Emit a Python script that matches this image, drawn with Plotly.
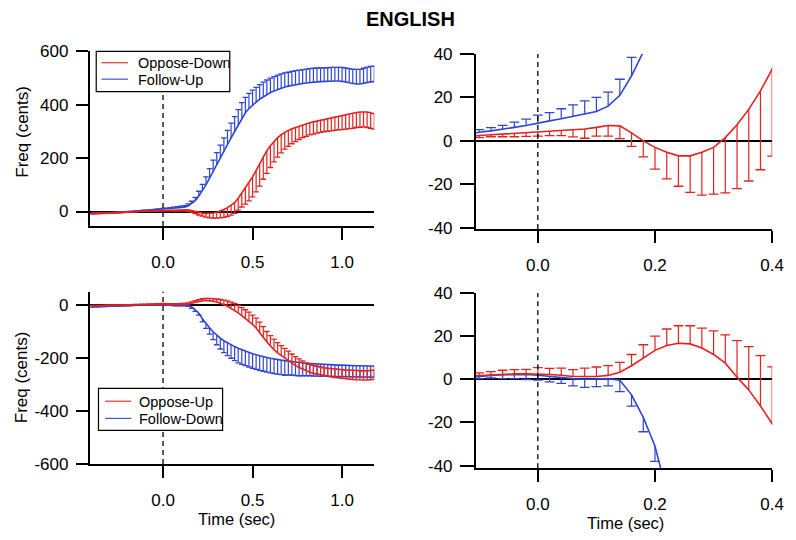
import numpy as np
import plotly.graph_objects as go

# ---------------- data (time in s, pitch response in cents) ----------------
TIME = [-0.40, -0.38, -0.36, -0.34, -0.32, -0.30, -0.28, -0.26, -0.24, -0.22,
        -0.20, -0.18, -0.16, -0.14, -0.12, -0.10, -0.08, -0.06, -0.04, -0.02,
        0.00, 0.02, 0.04, 0.06, 0.08, 0.10, 0.12, 0.14, 0.16, 0.18,
        0.20, 0.22, 0.24, 0.26, 0.28, 0.30, 0.32, 0.34, 0.36, 0.38,
        0.40, 0.42, 0.44, 0.46, 0.48, 0.50, 0.52, 0.54, 0.56, 0.58,
        0.60, 0.62, 0.64, 0.66, 0.68, 0.70, 0.72, 0.74, 0.76, 0.78,
        0.80, 0.82, 0.84, 0.86, 0.88, 0.90, 0.92, 0.94, 0.96, 0.98,
        1.00, 1.02, 1.04, 1.06, 1.08, 1.10, 1.12, 1.14, 1.16, 1.18]

OPPOSE_DOWN = [-7, -7, -6.5, -6, -5.5, -5, -4.5, -4, -3, -2.5,
               -1.5, -1, 0, 1, 1.8, 2.5, 2.8, 3.1, 3.4, 3.7,
               4.1, 4.4, 4.7, 5.2, 5.5, 6.2, 7.1, 6.9, 3.7, 0,
               -3, -5.2, -6.9, -6.9, -5.2, -3, 1.5, 7.4, 14.5, 23,
               33, 50, 69, 88, 108, 130, 154, 180, 206, 228,
               247, 264, 277, 288, 297, 304, 310, 315, 320, 325,
               329, 333, 336, 339, 342, 345, 348, 351, 355, 358,
               360, 363, 366, 368, 371, 373, 374, 373, 370, 366]
OPPOSE_DOWN_SE = [1.5, 1.5, 1.5, 1.5, 1.5, 1.5, 1.5, 1.5, 1.5, 1.5,
                  1.5, 1.5, 1.5, 1.2, 1.1, 1.0, 0.9, 1.2, 1.5, 1.6,
                  1.9, 2.0, 2.3, 3.4, 4.3, 4.0, 4.9, 5.9, 6.2, 7.4,
                  10, 12.3, 14, 16.8, 19.8, 21.5, 25.5, 29.4, 33, 36.3,
                  40, 45, 52, 60, 68, 75, 80, 85, 85, 85,
                  82, 78, 73, 68, 63, 60, 56, 53, 50, 48,
                  47, 46, 46, 45, 45, 46, 47, 49, 51, 52,
                  53, 54, 55, 56, 56, 57, 57, 58, 58, 57]

FOLLOW_UP = [-8, -7.5, -7, -6.5, -6, -5.5, -5, -4, -3.5, -2.5,
             -1.5, -0.5, 0.5, 1.8, 3, 4, 4.6, 5.3, 6.2, 7.1,
             8.3, 9.2, 10.2, 11.3, 12.3, 13.5, 16, 21, 30, 41,
             58, 78, 100, 125, 151, 175, 199, 224, 250, 276,
             300, 325, 350, 370, 386, 399, 410, 421, 430, 439,
             446, 452, 458, 463, 467, 470, 473, 476, 478, 480,
             482, 484, 485, 486, 487, 488, 488, 489, 489, 489,
             488, 486, 483, 480, 478, 478, 481, 484, 486, 487]
FOLLOW_UP_SE = [1.2, 1.2, 1.2, 1.2, 1.2, 1.2, 1.2, 1.2, 1.2, 1.2,
                1.2, 1.2, 1.2, 1.2, 1.2, 1.2, 1.5, 1.8, 2.4, 2.9,
                3.6, 3.8, 4.6, 5.3, 6.1, 6.5, 6.5, 7.4, 8.5, 12,
                18, 24, 30, 36, 42, 46, 50, 52, 54, 55,
                56, 57, 58, 58, 57, 56, 55, 55, 55, 54,
                54, 54, 53, 53, 53, 52, 52, 52, 52, 52,
                52, 52, 52, 52, 51, 51, 51, 51, 51, 51,
                52, 52, 53, 54, 55, 55, 56, 57, 58, 58]

OPPOSE_UP = [-3, -3, -2.5, -2.5, -2, -2, -1.5, -1.5, -1, -0.5,
             0, 0.3, 0.7, 1.1, 1.5, 1.8, 2.1, 2.4, 2.5, 2.5,
             2.5, 2.2, 1.9, 1.3, 1.3, 1.3, 1.8, 3.3, 6.3, 10,
             13.4, 15.7, 16.7, 16.4, 14.5, 11.5, 7.5, 1, -4.9, -12.4,
             -20.6, -30, -40, -50, -61, -73, -87, -103, -122, -140,
             -156, -169, -181, -191, -201, -210, -220, -229, -236, -243,
             -249, -254, -258, -261, -264, -267, -269, -271, -273, -275,
             -277, -279, -280, -281, -282, -283, -283, -283, -282, -281]
OPPOSE_UP_SE = [1.2, 1.2, 1.2, 1.2, 1.2, 1.2, 1.2, 1.2, 1.2, 1.2,
                1.2, 1.2, 1.2, 1.2, 1.2, 1.2, 1.5, 1.8, 2.0, 2.1,
                2.9, 2.9, 3.3, 3.2, 3.9, 4.4, 4.5, 4.5, 5.2, 6.0,
                6.6, 7.6, 8.1, 8.4, 9.2, 10.9, 13.1, 16.9, 20, 23.4,
                26.4, 28, 30, 32, 34, 35, 37, 38, 40, 40,
                40, 40, 39, 38, 37, 36, 35, 34, 33, 32,
                31, 30, 30, 30, 30, 30, 31, 31, 32, 32,
                33, 33, 34, 34, 35, 35, 35, 35, 35, 35]

FOLLOW_DOWN = [-7, -6.5, -6, -5.5, -5, -4.5, -4, -3.5, -3, -2.5,
               -2, -1.5, -0.8, 0, 0.7, 1.3, 1.8, 2.1, 2.2, 2.2,
               1.9, 1.3, 0.7, 0.3, 0, 0, 0.3, -0.4, -7.2, -17.6,
               -31, -52, -70, -86, -101, -114, -125, -135, -143, -150,
               -157, -163, -169, -174, -179, -184, -188, -192, -195, -198,
               -201, -204, -206, -208, -210, -212, -214, -216, -218, -219,
               -220, -221, -222, -223, -224, -224, -225, -226, -226, -227,
               -227, -228, -228, -229, -229, -229, -230, -230, -230, -230]
FOLLOW_DOWN_SE = [1.0, 1.0, 1.0, 1.0, 1.0, 1.0, 1.0, 1.0, 1.0, 1.0,
                  1.0, 1.0, 1.0, 1.0, 1.0, 1.0, 1.2, 1.8, 1.9, 2.3,
                  2.3, 2.5, 2.6, 3.3, 3.7, 3.4, 3.3, 5.3, 5.2, 6.7,
                  7, 12, 18, 24, 30, 36, 41, 45, 48, 51,
                  53, 55, 55, 55, 55, 55, 55, 55, 55, 55,
                  55, 55, 55, 55, 55, 52, 51, 50, 49, 48,
                  47, 46, 46, 45, 45, 44, 44, 43, 43, 43,
                  42, 42, 42, 42, 42, 42, 42, 42, 42, 42]

LEFT_XTICKS = [0.0, 0.5, 1.0]
RIGHT_XTICKS = [0.0, 0.2, 0.4]
TOP_LEFT_YTICKS = [0, 200, 400, 600]
BOTTOM_LEFT_YTICKS = [-600, -400, -200, 0]
RIGHT_YTICKS = [-40, -20, 0, 20, 40]
TOP_LEGEND = ["Oppose-Down", "Follow-Up"]
BOTTOM_LEGEND = ["Oppose-Up", "Follow-Down"]

# ---------------- styling ----------------
W, H = 796, 540
RED = "#e3221e"
BLUE = "#2f45d6"
FONT = "Liberation Sans, Arial, Helvetica, sans-serif"


def PX(x):
    return x / W


def PY(y):
    return 1 - y / H


def dom_x(a, b):
    return [PX(a), PX(b)]


def dom_y(top, bottom):
    return [PY(bottom), PY(top)]


fig = go.Figure()


def add_series(xa, ya, mean, se, direction, color, name, capsize):
    mean = np.asarray(mean, float)
    se = np.asarray(se, float)
    zeros = np.zeros_like(se)
    if direction == "up":
        arr, arrm, cap = se, zeros, mean + se
    else:
        arr, arrm, cap = zeros, se, mean - se
    fig.add_trace(go.Scatter(
        x=TIME, y=mean, mode="lines", line=dict(color=color, width=1.6),
        error_y=dict(type="data", symmetric=False, array=arr, arrayminus=arrm,
                     width=0, thickness=1.2, color=color),
        name=name, showlegend=False, xaxis=xa, yaxis=ya, hoverinfo="skip"))
    fig.add_trace(go.Scatter(
        x=TIME, y=cap, mode="markers",
        marker=dict(symbol="line-ew", size=capsize, color=color,
                    line=dict(color=color, width=1.3)),
        name=name + " SE", showlegend=False, xaxis=xa, yaxis=ya, hoverinfo="skip"))


# top row: Oppose-Down (red, SE bars downward), Follow-Up (blue, SE bars upward)
for xa, ya, cs in [("x", "y", 4), ("x2", "y2", 7)]:
    add_series(xa, ya, FOLLOW_UP, FOLLOW_UP_SE, "up", BLUE, TOP_LEGEND[1], cs)
    add_series(xa, ya, OPPOSE_DOWN, OPPOSE_DOWN_SE, "down", RED, TOP_LEGEND[0], cs)

# bottom row: Oppose-Up (red, SE bars upward), Follow-Down (blue, SE bars downward)
for xa, ya, cs in [("x3", "y3", 4), ("x4", "y4", 7)]:
    add_series(xa, ya, FOLLOW_DOWN, FOLLOW_DOWN_SE, "down", BLUE, BOTTOM_LEGEND[1], cs)
    add_series(xa, ya, OPPOSE_UP, OPPOSE_UP_SE, "up", RED, BOTTOM_LEGEND[0], cs)

tickfont = dict(family=FONT, size=17, color="black")


def xaxis(domain, rng, ticks, anchor):
    return dict(domain=domain, range=rng, tickvals=ticks,
                ticktext=[f"{t:.1f}" for t in ticks],
                showline=True, linecolor="black", linewidth=1.5,
                ticks="outside", ticklen=12, tickwidth=1.5, tickcolor="black",
                showgrid=False, zeroline=False, anchor=anchor, tickfont=tickfont,
                ticklabelstandoff=8, fixedrange=True)


def yaxis(domain, rng, ticks, anchor, tl):
    # plain ASCII hyphen for negative labels, as in the original figure
    return dict(domain=domain, range=rng, tickvals=ticks,
                ticktext=[str(t) for t in ticks],
                showline=True, linecolor="black", linewidth=1.5,
                ticks="outside", ticklen=tl, tickwidth=1.5, tickcolor="black",
                showgrid=False, zeroline=True, zerolinecolor="black", zerolinewidth=1.5,
                anchor=anchor, tickfont=tickfont, ticklabelstandoff=4, fixedrange=True)


LX = dom_x(91, 380)
RX = dom_x(483, 784)

fig.update_layout(
    width=W, height=H, autosize=False,
    margin=dict(l=0, r=0, t=0, b=0),
    paper_bgcolor="white", plot_bgcolor="white",
    font=dict(family=FONT, color="black"),
    showlegend=False,
    xaxis=xaxis(LX, [-0.41, 1.18], LEFT_XTICKS, "y"),
    yaxis=yaxis(dom_y(44, 225), [-54.5, 600], TOP_LEFT_YTICKS, "x", 12),
    xaxis2=xaxis(RX, [-0.106, 0.4], RIGHT_XTICKS, "y2"),
    yaxis2=yaxis(dom_y(46.7, 228), [-40.6, 40], RIGHT_YTICKS, "x2", 14),
    xaxis3=xaxis(LX, [-0.41, 1.18], LEFT_XTICKS, "y3"),
    yaxis3=yaxis(dom_y(293, 471.7), [-600, 50], BOTTOM_LEFT_YTICKS, "x3", 12),
    xaxis4=xaxis(RX, [-0.106, 0.4], RIGHT_XTICKS, "y4"),
    yaxis4=yaxis(dom_y(294.3, 476), [-41.2, 40], RIGHT_YTICKS, "x4", 14),
)

# dashed vertical line at t = 0 in every panel
for xr, yr in [("x", "y"), ("x2", "y2"), ("x3", "y3"), ("x4", "y4")]:
    fig.add_shape(type="line", xref=xr, yref=f"{yr} domain", x0=0, x1=0, y0=0, y1=1,
                  line=dict(color="black", width=1.3, dash="5px,4px"), layer="above")

# boxed legends
LEGENDS = [
    dict(box=(97.7, 44, 233.3, 85.7), line_x=(103, 130), text_x=137.7,
         rows=[(55.7, RED, TOP_LEGEND[0]), (72.7, BLUE, TOP_LEGEND[1])]),
    dict(box=(100, 393.3, 226, 436.7), line_x=(106.7, 133.3), text_x=139.3,
         rows=[(406.5, RED, BOTTOM_LEGEND[0]), (424.3, BLUE, BOTTOM_LEGEND[1])]),
]
for lg in LEGENDS:
    x0, y0, x1, y1 = lg["box"]
    fig.add_shape(type="rect", xref="paper", yref="paper",
                  x0=PX(x0), x1=PX(x1), y0=PY(y1), y1=PY(y0),
                  line=dict(color="black", width=1.2), fillcolor="white", layer="above")
    for yy, col, label in lg["rows"]:
        fig.add_shape(type="line", xref="paper", yref="paper",
                      x0=PX(lg["line_x"][0]), x1=PX(lg["line_x"][1]),
                      y0=PY(yy), y1=PY(yy),
                      line=dict(color=col, width=1.1), layer="above")
        fig.add_annotation(text=label, x=PX(lg["text_x"]), y=PY(yy + 0.5),
                           xref="paper", yref="paper", xanchor="left", yanchor="middle",
                           showarrow=False,
                           font=dict(family=FONT, size=14.5, color="black"))

ann = [
    dict(text="<b>ENGLISH</b>", x=417, y=10.5, size=20, angle=0),
    dict(text="Freq (cents)", x=22, y=127.5, size=17, angle=-90),
    dict(text="Freq (cents)", x=22, y=382, size=17, angle=-90),
    dict(text="Time (sec)", x=240, y=529, size=16.5, angle=0),
    dict(text="Time (sec)", x=635.5, y=532.5, size=16.5, angle=0),
]
for a in ann:
    fig.add_annotation(text=a["text"], x=PX(a["x"]), y=PY(a["y"]), xref="paper", yref="paper",
                       xanchor="center", yanchor="middle", showarrow=False,
                       textangle=a["angle"], font=dict(family=FONT, size=a["size"], color="black"))

fig.write_html("out.html", config={"displayModeBar": False},
               post_script="document.body.style.margin='0px';")
